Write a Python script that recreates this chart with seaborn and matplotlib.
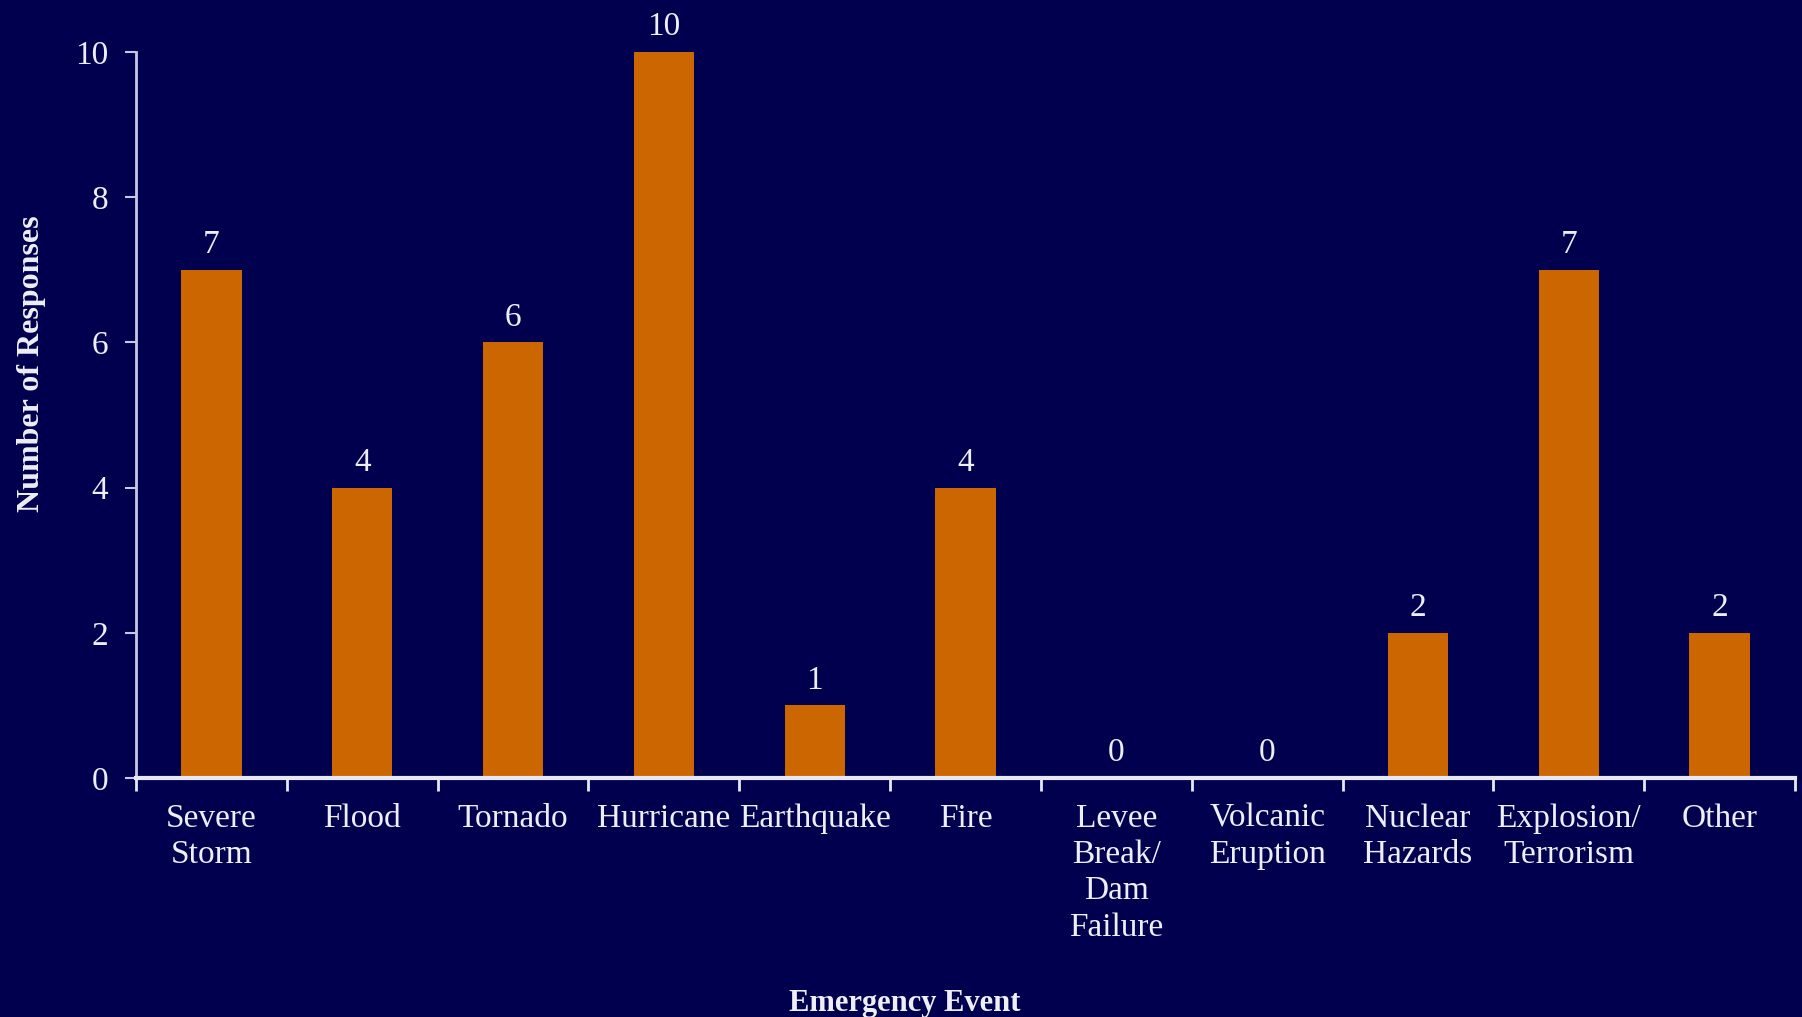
import matplotlib
matplotlib.use("Agg")
import matplotlib.pyplot as plt
import seaborn as sns
import pandas as pd

# Survey results: number of responses per emergency event type
categories = ["Severe\nStorm", "Flood", "Tornado", "Hurricane", "Earthquake", "Fire",
              "Levee\nBreak/\nDam\nFailure", "Volcanic\nEruption", "Nuclear\nHazards",
              "Explosion/\nTerrorism", "Other"]
responses = [7, 4, 6, 10, 1, 4, 0, 0, 2, 7, 2]
y_ticks = [0, 2, 4, 6, 8, 10]

BG = "#00004F"
BAR = "#CC6600"
TEXT = "#EEEEF6"
AXIS = "#C8C8E6"

sns.set_style("ticks")
plt.rcParams["font.family"] = ["Liberation Serif", "DejaVu Serif"]

df = pd.DataFrame({"event": categories, "count": responses})

fig = plt.figure(figsize=(18.02, 10.17), dpi=100, facecolor=BG)
ax = fig.add_axes([0.0755, 0.235, 0.9206, 0.714])
ax.set_facecolor(BG)

sns.barplot(data=df, x="event", y="count", color=BAR, width=0.4,
            saturation=1, linewidth=0, edgecolor=BAR, ax=ax, zorder=2)

ax.set_xlim(-0.5, len(categories) - 0.5)
ax.set_ylim(0, 10)
ax.set_yticks(y_ticks)

for side in ("top", "right"):
    ax.spines[side].set_visible(False)
ax.spines["left"].set_color(AXIS)
ax.spines["left"].set_linewidth(2)
ax.spines["bottom"].set_color("#E8E8F4")
ax.spines["bottom"].set_linewidth(3)
ax.spines["bottom"].set_zorder(3)

ax.tick_params(axis="y", colors=AXIS, labelcolor=TEXT, labelsize=24,
               length=8, width=1.5, direction="out", pad=12)
ax.tick_params(axis="x", which="major", length=0, labelcolor=TEXT,
               labelsize=24, pad=18)
ax.set_xticks([i - 0.5 for i in range(len(categories) + 1)], minor=True)
ax.tick_params(axis="x", which="minor", colors="#E8E8F4", length=9,
               width=2, direction="out")
for lbl in ax.get_xticklabels():
    lbl.set_linespacing(1.25)
    lbl.set_verticalalignment("top")

ax.bar_label(ax.containers[0], labels=[str(v) for v in responses],
             padding=7, color=TEXT, fontsize=24)

ax.set_xlabel("")
ax.set_ylabel("Number of Responses", color=TEXT, fontsize=23, fontweight="bold")
ax.yaxis.set_label_coords(-0.054, 0.57)
fig.text(0.502, 0.013, "Emergency Event", color=TEXT, fontsize=22,
         fontweight="bold", ha="center", va="center")

fig.savefig("out.png", dpi=100, facecolor=BG)
